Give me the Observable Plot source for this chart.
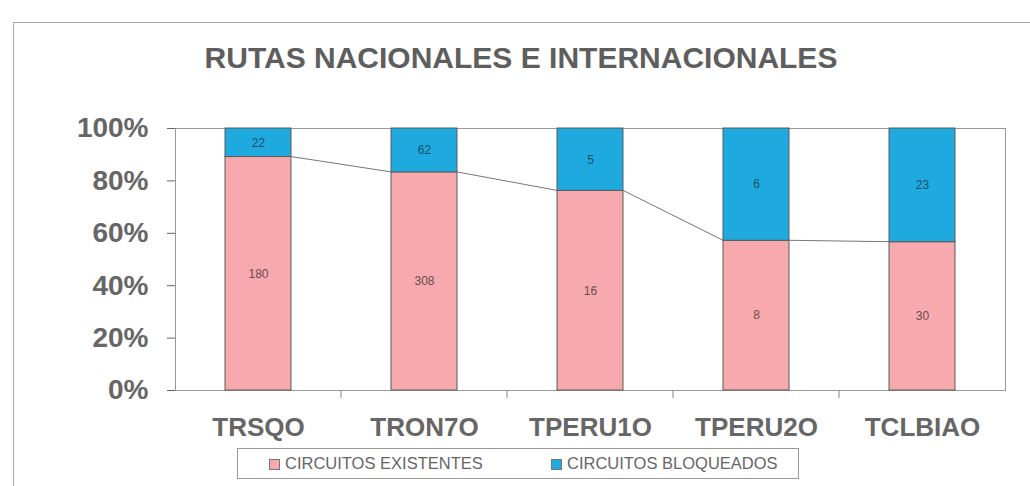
<!DOCTYPE html>
<html>
<head>
<meta charset="utf-8">
<script src="https://cdn.jsdelivr.net/npm/d3@7"></script>
<script src="https://cdn.jsdelivr.net/npm/@observablehq/plot@0.6"></script>
<style>
  html, body { margin: 0; padding: 0; background: #fff; overflow: hidden; }
  #wrap { position: relative; width: 1030px; height: 486px; font-family: "Liberation Sans", Arial, sans-serif; }
  #outer { position: absolute; left: 13px; top: 22px; width: 1100px; height: 600px; border-left: 1px solid #aaa; border-top: 1px solid #aaa; }
  #title { position: absolute; left: 0; top: 43px; width: 1042px; text-align: center; font-size: 30px; line-height: 30px; font-weight: bold; color: #5e5e5e; }
  #legend { position: absolute; left: 237px; top: 448px; width: 562px; height: 31px; border: 1px solid #999; background: #fff; box-sizing: border-box; }
  .item { position: absolute; top: 0; height: 29px; line-height: 29px; font-size: 16.5px; color: #666; white-space: nowrap; }
  .sw { display: inline-block; width: 11px; height: 11px; vertical-align: -1px; margin-right: 5px; border: 1px solid #777; box-sizing: border-box; }
  #chart { position: absolute; left: 0; top: 0; }
</style>
</head>
<body>
<div id="wrap">
  <div id="outer"></div>
  <div id="chart"></div>
  <div id="title"></div>
  <div id="legend"></div>
</div>
<script>
const title = "RUTAS NACIONALES E INTERNACIONALES";
const categories = ["TRSQO", "TRON7O", "TPERU1O", "TPERU2O", "TCLBIAO"];
const existentes = [180, 308, 16, 8, 30];
const bloqueados = [22, 62, 5, 6, 23];
const seriesNames = ["CIRCUITOS EXISTENTES", "CIRCUITOS BLOQUEADOS"];
const seriesColors = ["#f7a9ae", "#1eaade"];
const labelColors = ["#6a4c4c", "#1d4f6a"];
const yTicks = [0, 0.2, 0.4, 0.6, 0.8, 1];

const rows = [];
categories.forEach((c, i) => {
  rows.push({cat: c, series: seriesNames[0], value: existentes[i]});
  rows.push({cat: c, series: seriesNames[1], value: bloqueados[i]});
});

function extras(index, scales) {
  const x = scales.x, y = scales.y;
  const bw = x.bandwidth(), step = x.step();
  const g = d3.create("svg:g");
  // category boundary ticks below the axis
  categories.slice(0, -1).forEach(c => {
    const xb = x(c) + bw + (step - bw) / 2;
    g.append("line").attr("x1", xb).attr("x2", xb)
      .attr("y1", y(0)).attr("y2", y(0) + 8)
      .attr("stroke", "#888");
  });
  // series lines connecting tops of the "existentes" segments
  for (let i = 0; i < categories.length - 1; i++) {
    const f1 = existentes[i] / (existentes[i] + bloqueados[i]);
    const f2 = existentes[i + 1] / (existentes[i + 1] + bloqueados[i + 1]);
    g.append("line")
      .attr("x1", x(categories[i]) + bw).attr("y1", y(f1))
      .attr("x2", x(categories[i + 1])).attr("y2", y(f2))
      .attr("stroke", "#777").attr("stroke-width", 1);
  }
  return g.node();
}

const plot = Plot.plot({
  width: 1030,
  height: 486,
  marginLeft: 175,
  marginRight: 25,
  marginTop: 128,
  marginBottom: 96,
  style: {fontFamily: "'Liberation Sans', Arial, sans-serif", background: "transparent"},
  x: {domain: categories, paddingInner: 0.6, paddingOuter: 0.3, label: null},
  y: {domain: [0, 1], label: null},
  color: {domain: seriesNames, range: seriesColors},
  marks: [
    Plot.frame({stroke: "#999"}),
    Plot.barY(rows, Plot.stackY({
      x: "cat", y: "value", fill: "series", offset: "normalize",
      stroke: "#5a5a5a", strokeWidth: 1
    })),
    Plot.text(rows, Plot.stackY({
      x: "cat", y: "value", text: "value", offset: "normalize",
      fill: d => labelColors[seriesNames.indexOf(d.series)],
      fontSize: 12
    })),
    extras,
    Plot.axisY({
      ticks: yTicks, tickFormat: d3.format(".0%"), tickSize: 8, tickPadding: 19,
      fontSize: 28, fontWeight: "bold", color: "#666", label: null
    }),
    Plot.axisX({
      tickSize: 0, tickPadding: 27, fontSize: 26, fontWeight: "bold",
      color: "#666", label: null
    })
  ]
});
document.getElementById("chart").appendChild(plot);
document.getElementById("title").textContent = title;

const legend = document.getElementById("legend");
const legendLefts = [31, 313];
seriesNames.forEach((s, i) => {
  const item = document.createElement("div");
  item.className = "item";
  item.style.left = legendLefts[i] + "px";
  const sw = document.createElement("span");
  sw.className = "sw";
  sw.style.background = seriesColors[i];
  item.appendChild(sw);
  item.appendChild(document.createTextNode(s));
  legend.appendChild(item);
});
</script>
</body>
</html>
